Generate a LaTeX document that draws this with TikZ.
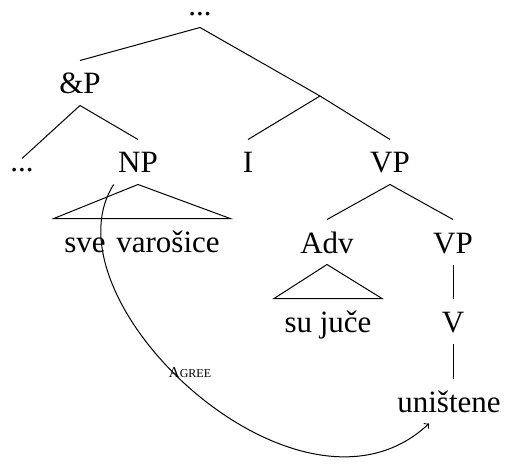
\documentclass[tikz,border=0pt]{standalone}
\usepackage{fontspec}
\setmainfont{Liberation Serif}
\usetikzlibrary{calc}
\begin{document}
\begin{tikzpicture}[x=0.5pt,y=-0.5pt,line width=0.5pt,
  lbl/.style={anchor=base,font=\fontsize{15.5}{18}\selectfont,
    text height=11pt,text depth=0pt,inner ysep=5.5pt,inner xsep=2pt},
  dots/.style={lbl,text height=1pt},
  leaf/.style={lbl,inner xsep=5pt},
  agree/.style={font=\fontsize{7.5}{9}\selectfont,inner sep=0pt}]
\useasboundingbox (0,0) rectangle (506,464);
% labels of the tree
\node[dots] (top)  at (200,16)  {...};
\node[lbl]  (andP) at (80,94)   {\&P};
\node[dots] (ld)   at (22,172)  {...};
\node[lbl]  (NP)   at (138,173) {NP};
\node[lbl]  (I)    at (248,173) {I};
\node[lbl]  (VP)   at (390,173) {VP};
\node[leaf] (sve)  at (142,252) {sve\hspace{1.5pt} varošice};
\node[lbl]  (Adv)  at (327,253) {Adv};
\node[lbl]  (VPb)  at (453,253) {VP};
\node[leaf] (su)   at (328,332) {su juče};
\node[lbl]  (V)    at (453,332) {V};
\node[lbl]  (un)   at (449,412) {uništene};
\coordinate (j) at (320,96);
% branches
\draw (andP.north) -- (top.south) -- (j) -- (VP.north);
\draw (j) -- (I.north);
\draw (ld.north) -- (andP.south) -- (NP.north);
\draw (Adv.north) -- (VP.south) -- (VPb.north);
\draw (VPb.south) -- (V.north);
\draw (V.south) -- (V.south |- un.north);
% roofs over phrasal leaves
\draw (sve.north west) -- (NP.south) -- (sve.north east) -- cycle;
\draw (su.north west) -- (Adv.south) -- (su.north east) -- cycle;
% agreement arrow
\draw[->] (NP.south west) .. controls (40,300) and (300,545) .. ($(un.south)+(-20,0)$);
\node[agree] (ag) at (190,373) {A{\fontsize{6}{7}\selectfont GREE}};
\end{tikzpicture}
\end{document}
